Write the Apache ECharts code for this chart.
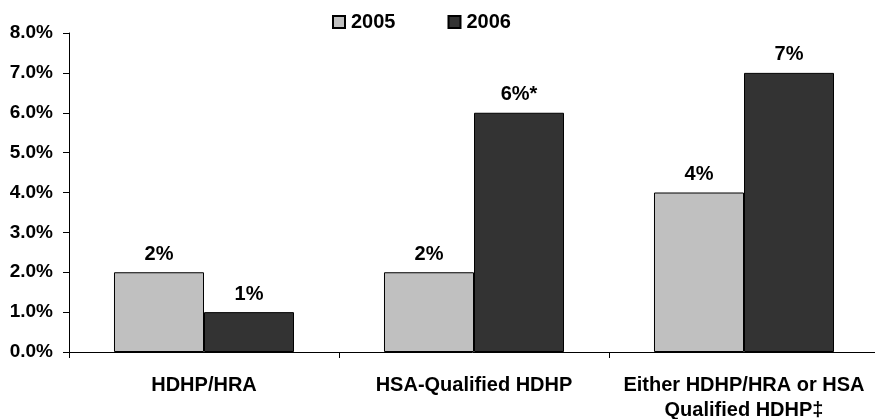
<!DOCTYPE html>
<html>
<head>
<meta charset="utf-8">
<script src="https://cdn.jsdelivr.net/npm/echarts@6/dist/echarts.min.js"></script>
<style>
  html, body { margin: 0; padding: 0; background: #fff; }
  #chart { width: 875px; height: 419px; }
</style>
</head>
<body>
<div id="chart"></div>
<script>
// data
const categories = ['HDHP/HRA', 'HSA-Qualified HDHP', 'Either HDHP/HRA or HSA\nQualified HDHP‡'];
const values2005 = [2, 2, 4];
const values2006 = [1, 6, 7];
const labels2005 = ['2%', '2%', '4%'];
const labels2006 = ['1%', '6%*', '7%'];
const yTicks = [0, 1, 2, 3, 4, 5, 6, 7, 8];

const font = 'Liberation Sans, Arial, sans-serif';
const chart = echarts.init(document.getElementById('chart'));

chart.setOption({
  animation: false,
  textStyle: { fontFamily: font },
  legend: {
    top: 7,
    left: 327,
    itemWidth: 12,
    itemHeight: 12,
    itemGap: 52,
    icon: 'rect',
    textStyle: { fontFamily: font, fontWeight: 'bold', fontSize: 20, color: '#000', padding: [0, 0, 0, 1] },
    data: ['2005', '2006']
  },
  // keep the plot fixed; the wrapped bottom label may touch the edge
  grid: { left: 69, right: -4, top: 33, bottom: 67, containLabel: false, outerBoundsMode: 'none' },
  xAxis: {
    type: 'category',
    data: categories,
    axisLine: { lineStyle: { color: '#000', width: 1 } },
    axisTick: { show: true, length: 6, lineStyle: { color: '#000' } },
    axisLabel: {
      fontFamily: font, fontWeight: 'bold', fontSize: 20, color: '#000',
      margin: 21, lineHeight: 25, interval: 0
    }
  },
  yAxis: {
    type: 'value',
    min: 0,
    max: yTicks[yTicks.length - 1],
    interval: 1,
    splitLine: { show: false },
    axisLine: { show: true, lineStyle: { color: '#000', width: 1 } },
    axisTick: { show: true, length: 6, lineStyle: { color: '#000' } },
    axisLabel: {
      fontFamily: font, fontWeight: 'bold', fontSize: 19, color: '#000', margin: 16,
      formatter: v => v.toFixed(1) + '%'
    }
  },
  series: [
    {
      name: '2005',
      type: 'bar',
      data: values2005,
      barGap: '0%',
      barCategoryGap: '33.33%',
      itemStyle: { color: '#c0c0c0', borderColor: '#000', borderWidth: 1 },
      label: {
        show: true, position: 'top', distance: 8,
        fontFamily: font, fontWeight: 'bold', fontSize: 20, color: '#000',
        formatter: p => labels2005[p.dataIndex]
      }
    },
    {
      name: '2006',
      type: 'bar',
      data: values2006,
      itemStyle: { color: '#333333', borderColor: '#000', borderWidth: 1 },
      label: {
        show: true, position: 'top', distance: 8,
        fontFamily: font, fontWeight: 'bold', fontSize: 20, color: '#000',
        formatter: p => labels2006[p.dataIndex]
      }
    }
  ]
});
</script>
</body>
</html>
